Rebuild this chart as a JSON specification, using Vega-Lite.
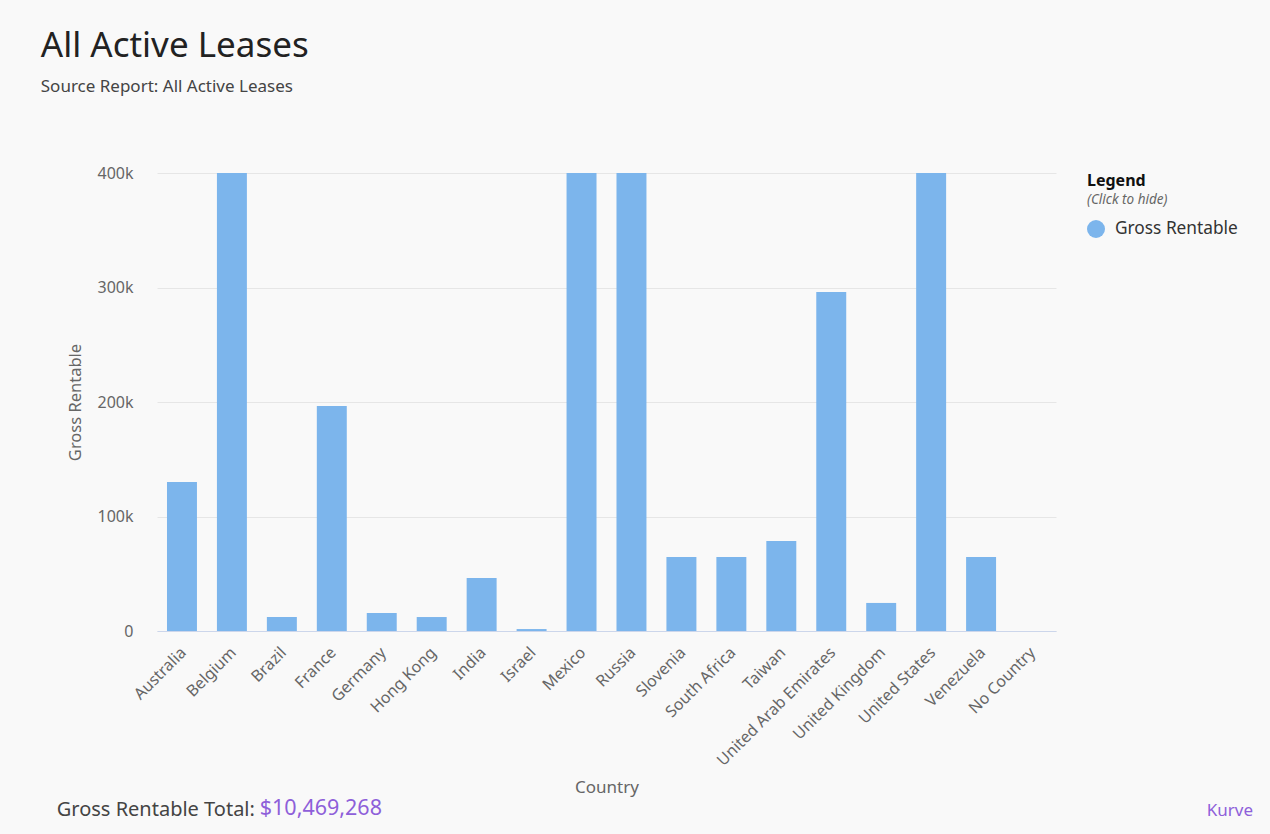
{
  "$schema": "https://vega.github.io/schema/vega-lite/v6.json",
  "background": "#f9f9f9",
  "padding": {"left": 40, "top": 29, "right": 20, "bottom": 12},
  "config": {
    "font": "Noto Sans",
    "view": {"stroke": null}
  },
  "spacing": 2,
  "resolve": {"legend": {"color": "independent"}},
  "title": {
    "text": "All Active Leases",
    "subtitle": "Source Report: All Active Leases",
    "anchor": "start",
    "frame": "bounds",
    "dx": -16,
    "fontSize": 35,
    "fontWeight": "normal",
    "color": "#222222",
    "subtitleFontSize": 17,
    "subtitleColor": "#444444",
    "subtitlePadding": 15,
    "offset": 70
  },
  "datasets": {
    "leases": [
      {"country": "Australia", "gross_rentable": 130100, "series": "Gross Rentable"},
      {"country": "Belgium", "gross_rentable": 1200000, "series": "Gross Rentable"},
      {"country": "Brazil", "gross_rentable": 12200, "series": "Gross Rentable"},
      {"country": "France", "gross_rentable": 196500, "series": "Gross Rentable"},
      {"country": "Germany", "gross_rentable": 15700, "series": "Gross Rentable"},
      {"country": "Hong Kong", "gross_rentable": 12200, "series": "Gross Rentable"},
      {"country": "India", "gross_rentable": 46300, "series": "Gross Rentable"},
      {"country": "Israel", "gross_rentable": 1700, "series": "Gross Rentable"},
      {"country": "Mexico", "gross_rentable": 2150000, "series": "Gross Rentable"},
      {"country": "Russia", "gross_rentable": 1400000, "series": "Gross Rentable"},
      {"country": "Slovenia", "gross_rentable": 64600, "series": "Gross Rentable"},
      {"country": "South Africa", "gross_rentable": 64600, "series": "Gross Rentable"},
      {"country": "Taiwan", "gross_rentable": 78600, "series": "Gross Rentable"},
      {"country": "United Arab Emirates", "gross_rentable": 296000, "series": "Gross Rentable"},
      {"country": "United Kingdom", "gross_rentable": 24500, "series": "Gross Rentable"},
      {"country": "United States", "gross_rentable": 4711668, "series": "Gross Rentable"},
      {"country": "Venezuela", "gross_rentable": 64600, "series": "Gross Rentable"},
      {"country": "No Country", "gross_rentable": 0, "series": "Gross Rentable"}
    ]
  },
  "vconcat": [
    {
      "width": 899,
      "height": 458,
      "data": {"name": "leases"},
      "mark": {"type": "bar", "clip": true, "color": "#7cb5ec"},
      "encoding": {
        "x": {
          "field": "country",
          "type": "nominal",
          "sort": null,
          "title": "Country",
          "scale": {"paddingInner": 0.4, "paddingOuter": 0.2},
          "axis": {
            "labelAngle": -45,
            "labelFontSize": 16,
            "labelColor": "#666666",
            "labelPadding": 13,
            "labelOffset": -4,
            "ticks": false,
            "domainColor": "#ccd6eb",
            "titleFontSize": 17,
            "titleFontWeight": "normal",
            "titleColor": "#666666",
            "titlePadding": 11
          }
        },
        "y": {
          "field": "gross_rentable",
          "type": "quantitative",
          "title": "Gross Rentable",
          "scale": {"domain": [0, 400000], "nice": false},
          "axis": {
            "values": [0, 100000, 200000, 300000, 400000],
            "labelExpr": "datum.value === 0 ? '0' : format(datum.value, '~s')",
            "labelFontSize": 16,
            "labelColor": "#666666",
            "labelPadding": 24,
            "ticks": false,
            "domain": false,
            "gridColor": "#e6e6e6",
            "titleFontSize": 16.5,
            "titleFontWeight": "normal",
            "titleColor": "#666666",
            "titlePadding": 13
          }
        },
        "color": {
          "field": "series",
          "type": "nominal",
          "scale": {"domain": ["(Click to hide)", "Gross Rentable"], "range": ["rgba(0,0,0,0)", "#7cb5ec"]},
          "legend": {
            "title": "Legend",
            "orient": "right",
            "offset": 31,
            "padding": 0,
            "titleFontSize": 16,
            "titleFontWeight": "bold",
            "titleColor": "#111111",
            "titlePadding": 2,
            "labelFontSize": 17.3,
            "labelColor": "#333333",
            "labelOffset": 10,
            "symbolType": "circle",
            "symbolSize": 324,
            "symbolStrokeWidth": 0,
            "rowPadding": 11,
            "encode": {
              "labels": {
                "update": {
                  "fontStyle": {"signal": "datum.label === '(Click to hide)' ? 'italic' : 'normal'"},
                  "fontSize": {"signal": "datum.label === '(Click to hide)' ? 13.5 : 17.3"},
                  "fill": {"signal": "datum.label === '(Click to hide)' ? '#666666' : '#333333'"},
                  "dx": {"signal": "datum.label === '(Click to hide)' ? -28 : 0"}
                }
              }
            }
          }
        }
      }
    },
    {
      "spacing": 4,
      "hconcat": [
        {
          "width": 1, "height": 1,
          "data": {"values": [{}]},
          "mark": {"type": "point", "opacity": 0},
          "encoding": {},
          "title": {"text": "Gross Rentable Total:", "anchor": "start", "fontSize": 20, "fontWeight": "normal", "color": "#444444", "offset": 0, "dx": -98}
        },
        {
          "width": 1, "height": 1,
          "data": {"values": [{}]},
          "mark": {"type": "point", "opacity": 0},
          "encoding": {},
          "title": {"text": "$10,469,268", "anchor": "start", "fontSize": 21.5, "fontWeight": "normal", "color": "#8e5fd9", "offset": 0}
        },
        {
          "width": 867, "height": 1,
          "data": {"values": [{}]},
          "mark": {"type": "point", "opacity": 0},
          "encoding": {},
          "title": {"text": "Kurve", "anchor": "end", "fontSize": 17, "fontWeight": "normal", "color": "#8e5fd9", "offset": 0}
        }
      ]
    }
  ]
}
